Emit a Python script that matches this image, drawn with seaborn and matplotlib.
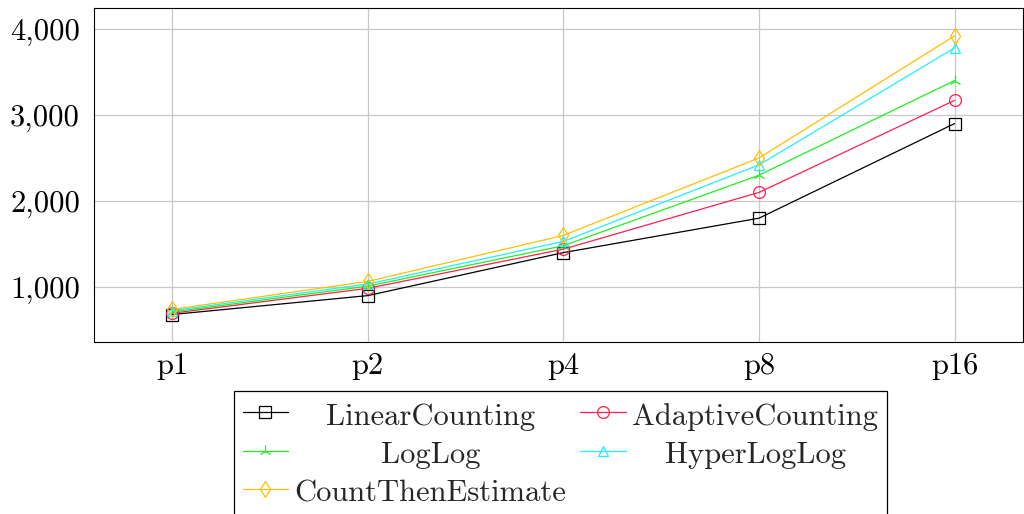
import matplotlib
matplotlib.use("Agg")
import matplotlib.pyplot as plt
from matplotlib.ticker import FuncFormatter, FixedLocator
import pandas as pd
import seaborn as sns

# Data
categories = ["p1", "p2", "p4", "p8", "p16"]
linear_counting = [680, 900, 1400, 1800, 2900]
adaptive_counting = [695, 985, 1440, 2100, 3170]
loglog = [710, 1010, 1480, 2300, 3400]
hyperloglog = [725, 1035, 1530, 2420, 3780]
count_then_estimate = [740, 1065, 1600, 2500, 3920]
y_ticks = [1000, 2000, 3000, 4000]

series_names = ["LinearCounting", "AdaptiveCounting", "LogLog",
                "HyperLogLog", "CountThenEstimate"]
series_values = [linear_counting, adaptive_counting, loglog,
                 hyperloglog, count_then_estimate]

palette = {
    "LinearCounting": "#000000",
    "AdaptiveCounting": "#ff1f4f",
    "LogLog": "#1ef01e",
    "HyperLogLog": "#1ef0ff",
    "CountThenEstimate": "#ffbf00",
}
markers = {
    "LinearCounting": "s",
    "AdaptiveCounting": "o",
    "LogLog": "2",
    "HyperLogLog": "^",
    "CountThenEstimate": "d",
}
marker_sizes = {"s": 8.5, "o": 8.5, "2": 9, "^": 7.5, "d": 8}

sns.set_style("white")
plt.rcParams["font.family"] = ["cmr10", "DejaVu Serif"]
plt.rcParams["axes.formatter.use_mathtext"] = True

fig = plt.figure(figsize=(10.24, 5.14), dpi=100)
ax = fig.add_axes([94 / 1024, 1 - 341.7 / 514, 929 / 1024, 333.7 / 514])

handles = []
for name, vals in zip(series_names, series_values):
    df = pd.DataFrame({"partition": categories, "value": vals})
    m = markers[name]
    sns.lineplot(data=df, x="partition", y="value", sort=False, ax=ax,
                 color=palette[name], marker=m, markersize=marker_sizes[m],
                 markerfacecolor="none", markeredgecolor=palette[name],
                 markeredgewidth=0.9, linewidth=0.9, label=name, legend=False)
    handles.append(ax.lines[-1])

ax.set_xlim(-0.4, 4.35)
ax.set_ylim(364, 4244)
ax.yaxis.set_major_locator(FixedLocator(y_ticks))
ax.yaxis.set_major_formatter(FuncFormatter(lambda v, p: f"{int(v):,}"))
ax.set_xlabel("")
ax.set_ylabel("")

ax.grid(True, color="#c8c8c8", linewidth=0.9)
ax.set_axisbelow(True)
for s in ax.spines.values():
    s.set_color("#000000")
    s.set_linewidth(0.8)
    s.set_visible(True)
ax.tick_params(axis="both", direction="in", length=7, width=0.8,
               color="#808080", labelsize=22, labelcolor="black")
ax.tick_params(axis="y", pad=10)
ax.tick_params(axis="x", pad=8)

# Legend in row-major order: (L, A), (LL, H), (C)
order = [0, 2, 4, 1, 3]
leg = fig.legend(handles=[handles[i] for i in order],
                 labels=[series_names[i] for i in order],
                 ncol=2, loc="upper left",
                 bbox_to_anchor=(234 / 1024, 1 - 391 / 514),
                 bbox_transform=fig.transFigure,
                 fontsize=22, frameon=True, fancybox=False, shadow=False,
                 borderpad=0.28, labelspacing=0.22, handlelength=1.5,
                 handleheight=1.15, handletextpad=0.2, columnspacing=0.45,
                 borderaxespad=0)
leg.get_frame().set_edgecolor("black")
leg.get_frame().set_linewidth(0.9)
leg.get_frame().set_alpha(None)
leg.get_frame().set_facecolor("white")

# Center label text within each legend column
renderer = fig.canvas.get_renderer()
texts = leg.get_texts()
columns = [[0, 1, 2], [3, 4]]
for col in columns:
    widths = [texts[i].get_window_extent(renderer).width for i in col]
    wmax = max(widths)
    for i, w in zip(col, widths):
        texts[i].set_x((wmax - w) / 2)

fig.savefig("out.png", dpi=100)
